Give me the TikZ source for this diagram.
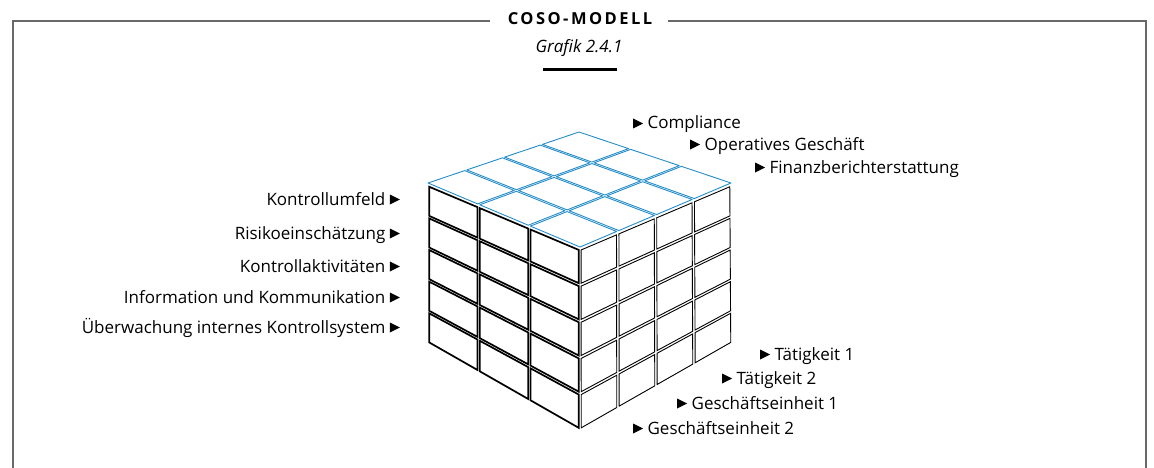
\documentclass[tikz,border=0pt]{standalone}
\usepackage{fontspec}
\setmainfont{Open Sans}
\usetikzlibrary{calc}
\definecolor{cubeblue}{RGB}{35,140,200}
\definecolor{framegray}{RGB}{105,105,105}
\newcommand\tri{\tikz[baseline=0pt,x=1pt,y=1pt]\fill[black] (0,0.5) -- (0,10.5) -- (10,5.5) -- cycle;}
\newcommand\setcorners[8]{\def\Ax{#1}\def\Ay{#2}\def\Bx{#3}\def\By{#4}\def\Cx{#5}\def\Cy{#6}\def\Dx{#7}\def\Dy{#8}}
\newcommand\bilin[3]{%
  \pgfmathsetmacro\cbx{(1-#1)*(1-#2)*\Ax+(#1)*(1-#2)*\Bx+(#1)*(#2)*\Cx+(1-#1)*(#2)*\Dx}%
  \pgfmathsetmacro\cby{(1-#1)*(1-#2)*\Ay+(#1)*(1-#2)*\By+(#1)*(#2)*\Cy+(1-#1)*(#2)*\Dy}%
  \coordinate (#3) at (\cbx,\cby);}
\newcommand\drawgrid[6]{%
  \foreach \i in {1,...,#1}{\foreach \j in {1,...,#2}{
    \pgfmathsetmacro\cuA{(\i-1)/#1+ifthenelse(\i>1,#3,#4)}
    \pgfmathsetmacro\cuB{\i/#1-ifthenelse(\i<#1,#3,#4)}
    \pgfmathsetmacro\cvA{(\j-1)/#2+ifthenelse(\j>1,#3,#4)}
    \pgfmathsetmacro\cvB{\j/#2-ifthenelse(\j<#2,#3,#4)}
    \bilin{\cuA}{\cvA}{#6a}\bilin{\cuB}{\cvA}{#6b}\bilin{\cuB}{\cvB}{#6c}\bilin{\cuA}{\cvB}{#6d}
    \draw[#5] (#6a)--(#6b)--(#6c)--(#6d)--cycle;
  }}}
\begin{document}
\begin{tikzpicture}[x=1pt,y=-1pt,
  lbl/.style={font=\fontsize{17}{19}\selectfont, inner sep=0pt},
  frameline/.style={draw=framegray, line width=1.3pt},
  topcell/.style={draw=cubeblue, line width=0.9pt, line join=round},
  leftcell/.style={draw=black, line width=1.7pt, line join=miter},
  rightcell/.style={draw=black, line width=0.9pt, line join=miter}]
\useasboundingbox (0,0) rectangle (1154,468);
% frame
\draw[frameline] (490,21) -- (13,21) -- (13,468);
\draw[frameline] (668,21) -- (1146,21) -- (1146,468);
\node[inner sep=0pt, font=\fontsize{16.5}{18}\selectfont\bfseries\addfontfeature{LetterSpace=15}] (title) at (580,19) {COSO-MODELL};
\node[inner sep=0pt, font=\fontsize{17}{19}\selectfont\itshape] (sub) at (579,48) {Grafik 2.4.1};
\draw[line width=3pt] (543,70) -- (617,70);
% cube faces
\setcorners{428}{183}{580}{247}{731}{183}{579}{132}
\drawgrid{3}{4}{0.007}{0}{topcell}{t}
\setcorners{428}{185}{580}{249}{580}{430}{428}{343}
\drawgrid{3}{5}{0.008}{0.008}{leftcell}{l}
\setcorners{580}{249}{731}{185}{732}{343}{580}{430}
\drawgrid{4}{5}{0.008}{0.008}{rightcell}{r}
% top labels
\node[lbl, anchor=base west] (c1) at (633,129) {\tri\ Compliance};
\node[lbl, anchor=base west] (c2) at (690,150) {\tri\ Operatives Geschäft};
\node[lbl, anchor=base west] (c3) at (755,173) {\tri\ Finanzberichterstattung};
% left labels
\node[lbl, anchor=base east] (k1) at (400,205) {Kontrollumfeld \tri};
\node[lbl, anchor=base east] (k2) at (400,239) {Risikoeinschätzung \tri};
\node[lbl, anchor=base east] (k3) at (400,272) {Kontrollaktivitäten \tri};
\node[lbl, anchor=base east] (k4) at (400,303) {Information und Kommunikation \tri};
\node[lbl, anchor=base east] (k5) at (400,333) {Überwachung internes Kontrollsystem \tri};
% bottom right labels
\node[lbl, anchor=base west] (e1) at (760,360) {\tri\ Tätigkeit 1};
\node[lbl, anchor=base west] (e2) at (722,384) {\tri\ Tätigkeit 2};
\node[lbl, anchor=base west] (e3) at (677,409) {\tri\ Geschäftseinheit 1};
\node[lbl, anchor=base west] (e4) at (633,434) {\tri\ Geschäftseinheit 2};
\end{tikzpicture}
\end{document}
